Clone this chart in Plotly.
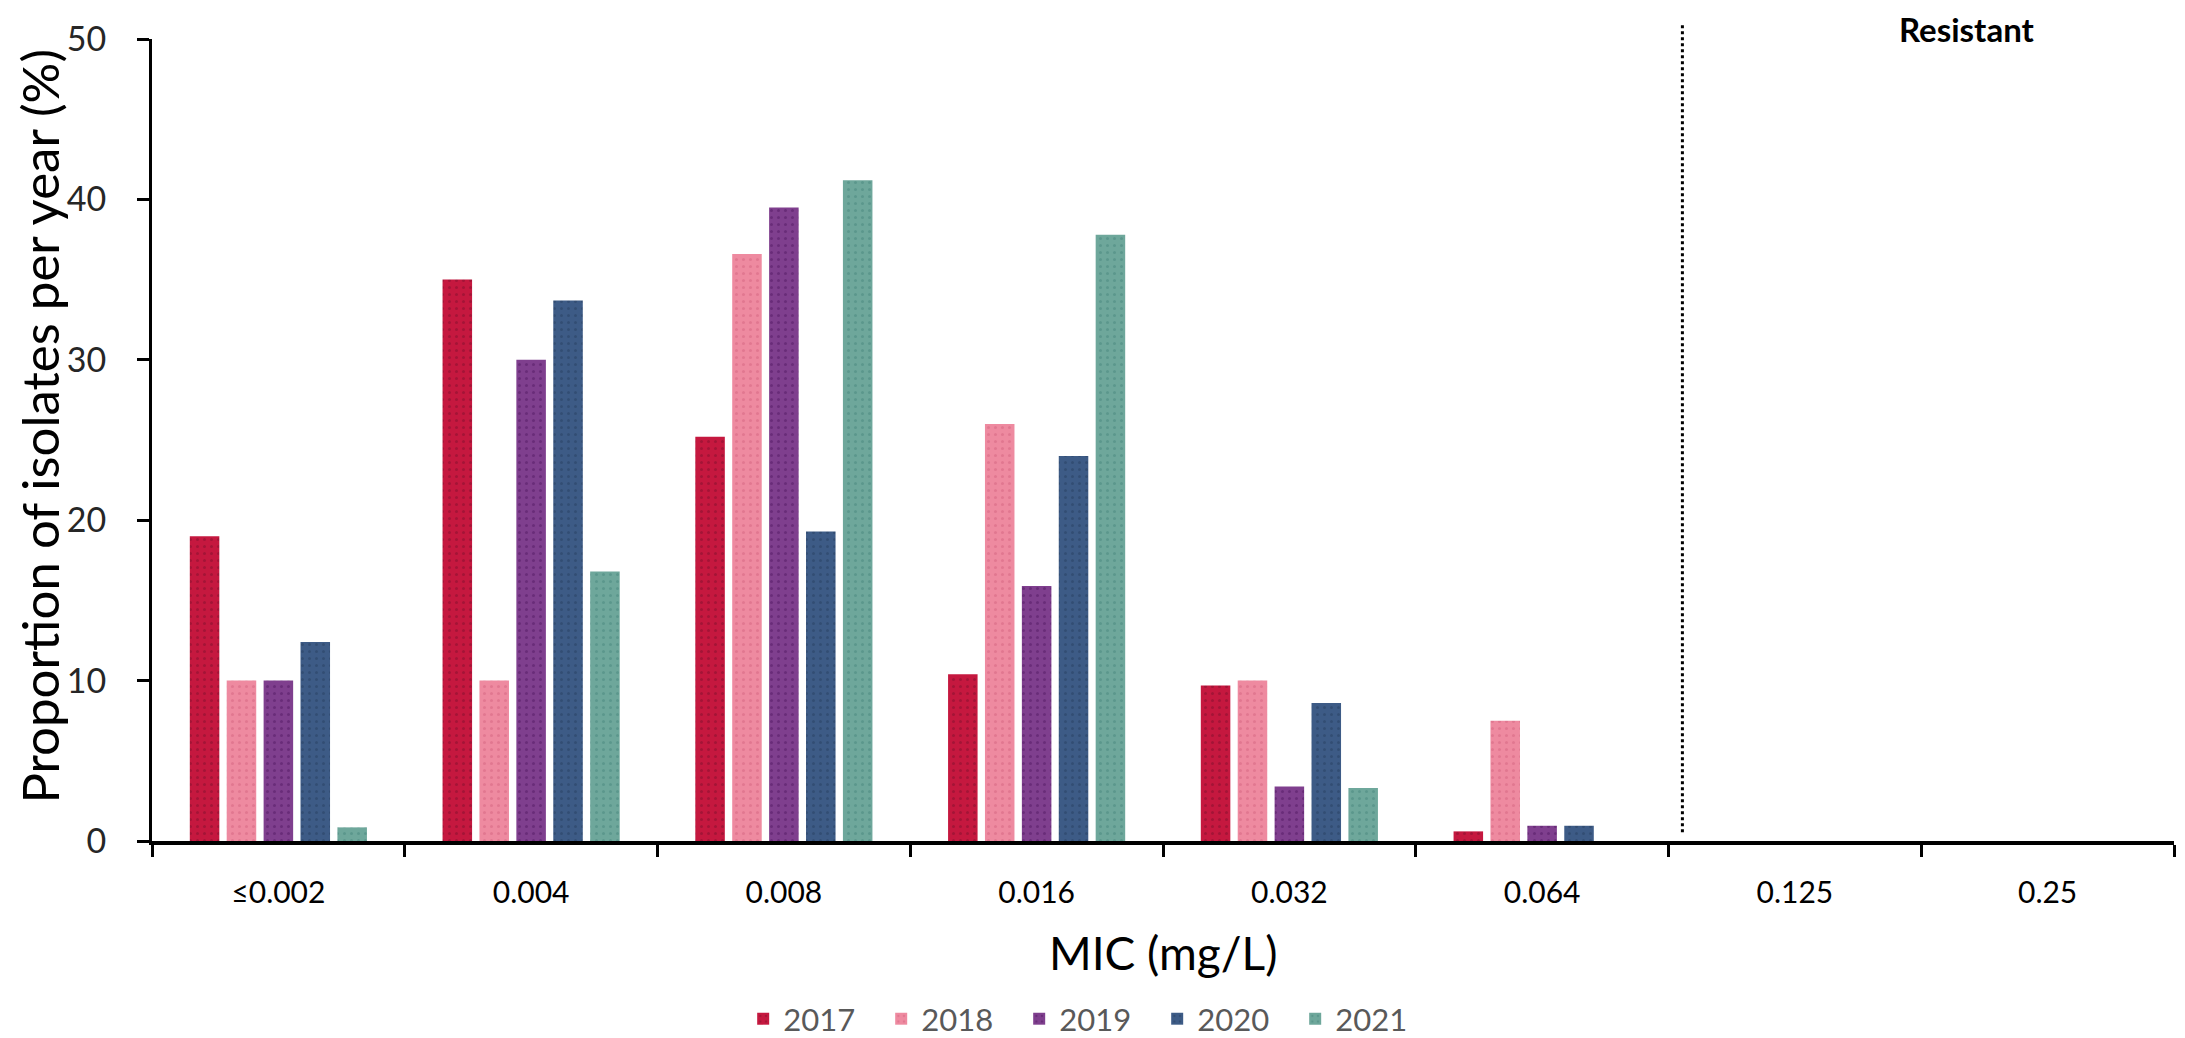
import plotly.graph_objects as go

categories = ["≤0.002", "0.004", "0.008", "0.016", "0.032", "0.064", "0.125", "0.25"]
years = ["2017", "2018", "2019", "2020", "2021"]
v2017 = [19.0, 35.0, 25.2, 10.4, 9.7, 0.6, 0, 0]
v2018 = [10.0, 10.0, 36.6, 26.0, 10.0, 7.5, 0, 0]
v2019 = [10.0, 30.0, 39.5, 15.9, 3.4, 0.95, 0, 0]
v2020 = [12.4, 33.7, 19.3, 24.0, 8.6, 0.95, 0, 0]
v2021 = [0.85, 16.8, 41.2, 37.8, 3.3, 0, 0, 0]
series = [v2017, v2018, v2019, v2020, v2021]
colors = ["#C5183F", "#EE8AA0", "#7F3F8E", "#3D5B86", "#6EA79B"]
dotcolors = ["#8E1030", "#D86A86", "#5A1F6A", "#2C4468", "#4F8C82"]

breakpoint_pos = 5.555  # between 0.064 and 0.125 categories (index units)

fig = go.Figure()
for yr, vals, c, dc in zip(years, series, colors, dotcolors):
    fig.add_trace(go.Bar(
        name=yr, x=categories, y=vals,
        marker=dict(color=c, line=dict(width=0),
                    pattern=dict(shape=".", fgcolor=dc, size=7, solidity=0.15, fgopacity=0.6)),
    ))

# the page body adds an 8px offset; figure is sized/margined to compensate
fig.update_layout(
    width=2177, height=1030,
    margin=dict(l=144, r=11, t=31, b=197, autoexpand=False),
    paper_bgcolor="white", plot_bgcolor="white",
    barmode="group", bargap=0.27, bargroupgap=0.2,
    font=dict(family="Lato, sans-serif", color="black"),
    showlegend=True,
    legend=dict(orientation="h", x=0.463, xanchor="center", y=-0.222, yanchor="middle",
                font=dict(size=31, color="#595959"), entrywidth=93, entrywidthmode="pixels",
                itemclick=False),
    xaxis=dict(
        type="category", categoryorder="array", categoryarray=categories,
        range=[-0.5, 7.5], showline=True, linecolor="black", linewidth=4,
        ticks="outside", tickson="boundaries", ticklen=12, tickwidth=2.5, tickcolor="black",
        showgrid=False, zeroline=False, tickfont=dict(size=30, color="black"),
        ticklabelstandoff=22,
    ),
    yaxis=dict(
        range=[0, 50], dtick=10, showline=True, linecolor="black", linewidth=3,
        ticks="outside", ticklen=12, tickwidth=3, tickcolor="black",
        showgrid=False, zeroline=False, tickfont=dict(size=34, color="#262626"),
        ticklabelstandoff=24,
    ),
    shapes=[dict(type="line", xref="x", yref="paper", x0=breakpoint_pos, x1=breakpoint_pos,
                 y0=0.011, y1=1.02, line=dict(color="black", width=3, dash="dot"))],
    annotations=[
        dict(text="<b>Resistant</b>", xref="x", yref="paper", x=6.68, y=1.0125,
             showarrow=False, font=dict(size=33, color="black"), xanchor="center", yanchor="middle"),
        dict(text="MIC (mg/L)", xref="paper", yref="paper", x=0.5, y=-0.139,
             showarrow=False, font=dict(size=46, color="black"), xanchor="center", yanchor="middle"),
        dict(text="Proportion of isolates per year (%)", xref="paper", yref="paper",
             x=-0.0554, y=0.518, textangle=-90, showarrow=False,
             font=dict(size=51, color="black"), xanchor="center", yanchor="middle"),
    ],
)

fig.write_html("out.html")
